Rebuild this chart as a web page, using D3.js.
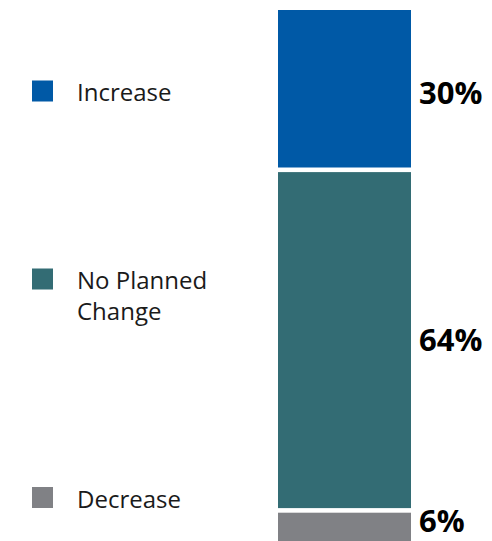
<!DOCTYPE html>
<html><head><meta charset="utf-8">
<script src="https://cdn.jsdelivr.net/npm/d3@7"></script>
<style>html,body{margin:0;padding:0;background:#fff;overflow:hidden}</style>
</head><body>
<svg id="c" width="492" height="541"></svg>
<script>
const categories = ["Increase", "No Planned Change", "Decrease"];
const values = [30, 64, 6];
const legendLines = [["Increase"], ["No Planned", "Change"], ["Decrease"]];
const valueLabels = ["30%", "64%", "6%"];
const colors = ["#0059a6", "#336c74", "#808185"];

(function () {
const svg = d3.select("#c");
const barTop = 10, gap = 4.6, barX = 278, barW = 133;
const y = d3.scaleLinear().domain([0, 100]).range([0, 525]);

let acc = 0;
const segs = values.map((v, i) => {
  const y0 = barTop + y(acc) + i * gap;
  const h = y(v);
  acc += v;
  return {i, v, y0, h};
});

svg.selectAll("rect.seg").data(segs).join("rect")
  .attr("class", "seg")
  .attr("x", barX).attr("width", barW)
  .attr("y", d => d.y0).attr("height", d => d.h)
  .attr("fill", d => colors[d.i]);

const lblBase = [103.5, 351, 532];
svg.selectAll("text.val").data(segs).join("text")
  .attr("class", "val")
  .attr("x", 419)
  .attr("y", (d, i) => lblBase[i])
  .attr("font-family", "Open Sans, sans-serif")
  .attr("font-weight", "bold")
  .attr("font-size", 31)
  .attr("fill", "#000")
  .text((d, i) => valueLabels[i]);

const legY = [91, 279, 497.5];
const lg = svg.selectAll("g.leg").data(categories).join("g")
  .attr("class", "leg")
  .attr("transform", (d, i) => `translate(0,${legY[i]})`);
lg.append("rect")
  .attr("x", 32).attr("y", -10.5).attr("width", 21).attr("height", 21)
  .attr("fill", (d, i) => colors[i]);
lg.append("text")
  .attr("x", 77)
  .attr("font-family", "Open Sans, sans-serif")
  .attr("font-size", 24)
  .attr("fill", "#1a1a1a")
  .selectAll("tspan").data((d, i) => legendLines[i]).join("tspan")
  .attr("x", 77)
  .attr("y", (d, j) => 10 + j * 31)
  .text(d => d);
})();
</script>
</body></html>
